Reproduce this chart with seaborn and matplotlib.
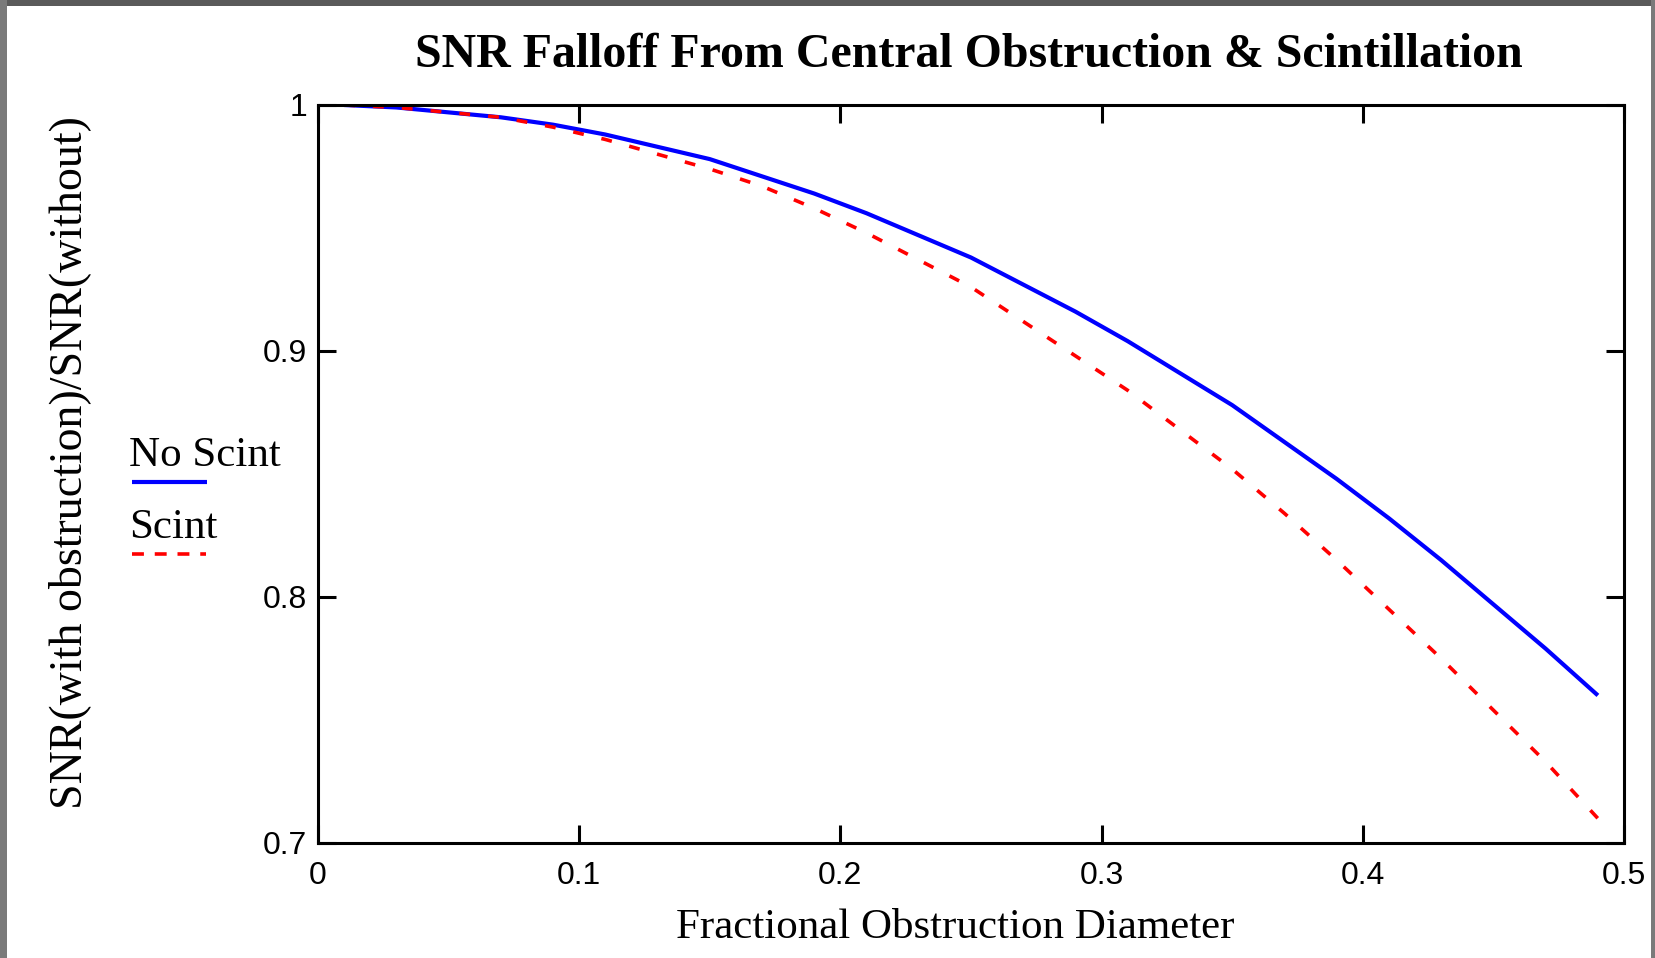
import matplotlib
matplotlib.use("Agg")
import matplotlib.pyplot as plt
from matplotlib.lines import Line2D
from matplotlib.patches import Rectangle
import numpy as np
import pandas as pd
import seaborn as sns

# Fractional obstruction diameter (x) and SNR ratios for the two cases
obstruction = [0.01, 0.03, 0.05, 0.07, 0.09, 0.11, 0.13, 0.15, 0.17, 0.19,
               0.21, 0.23, 0.25, 0.27, 0.29, 0.31, 0.33, 0.35, 0.37, 0.39,
               0.41, 0.43, 0.45, 0.47, 0.49]
snr_no_scint = [1.000, 0.999, 0.997, 0.995, 0.992, 0.988, 0.983, 0.978, 0.971, 0.964,
                0.956, 0.947, 0.938, 0.927, 0.916, 0.904, 0.891, 0.878, 0.863, 0.848,
                0.832, 0.815, 0.797, 0.779, 0.760]
snr_scint = [1.000, 0.999, 0.997, 0.995, 0.991, 0.986, 0.980, 0.974, 0.967, 0.958,
             0.948, 0.937, 0.926, 0.912, 0.898, 0.884, 0.868, 0.852, 0.834, 0.815,
             0.795, 0.775, 0.754, 0.733, 0.710]
x_ticks = [0, 0.1, 0.2, 0.3, 0.4, 0.5]
x_tick_labels = ["0", "0.1", "0.2", "0.3", "0.4", "0.5"]
y_ticks = [0.7, 0.8, 0.9, 1.0]
y_tick_labels = ["0.7", "0.8", "0.9", "1"]
series_names = ["No Scint", "Scint"]

sns.set_theme(style="white")
plt.rcParams["font.family"] = ["Liberation Serif", "DejaVu Serif"]

W, H, DPI = 1655, 958, 100
fig = plt.figure(figsize=(W / DPI, H / DPI), dpi=DPI, facecolor="white")
ax = fig.add_axes([318 / W, 1 - 843 / H, (1624 - 318) / W, (843 - 105) / H])
ax.set_facecolor("white")

df = pd.DataFrame({"x": obstruction, "no": snr_no_scint, "sc": snr_scint})
sns.lineplot(data=df, x="x", y="no", ax=ax, color="#0000ff", linewidth=3.0,
             solid_capstyle="butt")
sns.lineplot(data=df, x="x", y="sc", ax=ax, color="#ff0000", linewidth=2.6)
ax.lines[-1].set_dashes((3.0, 5.0))
ax.lines[-1].set_dash_capstyle("butt")

ax.set_xlim(0, 0.5)
ax.set_ylim(0.7, 1.0)
ax.set_xticks(x_ticks)
ax.set_xticklabels(x_tick_labels)
ax.set_yticks(y_ticks)
ax.set_yticklabels(y_tick_labels)
ax.set_xlabel("")
ax.set_ylabel("")
for s in ax.spines.values():
    s.set_visible(True)
    s.set_color("black")
    s.set_linewidth(2.2)
ax.tick_params(axis="both", which="major", direction="in", length=13, width=2.2,
               color="black", top=True, right=True, bottom=True, left=True,
               labelsize=23, labelcolor="black")
ax.tick_params(axis="x", pad=13)
ax.tick_params(axis="y", pad=8)
for lbl in ax.get_xticklabels() + ax.get_yticklabels():
    lbl.set_family(["Liberation Sans", "DejaVu Sans"])

fig.text(969 / W, 1 - 67 / H, "SNR Falloff From Central Obstruction & Scintillation",
         ha="center", va="baseline", fontsize=34.5, fontweight="bold", color="black")
fig.text(955 / W, 1 - 938 / H, "Fractional Obstruction Diameter",
         ha="center", va="baseline", fontsize=31, color="black")
fig.text(70 / W, 1 - 463 / H, "SNR(with obstruction)/SNR(without)",
         ha="center", va="center", rotation=90, fontsize=33, color="black")

# legend entries: name above a line sample
fig.text(129 / W, 1 - 466 / H, series_names[0], ha="left", va="baseline",
         fontsize=31, color="black")
fig.add_artist(Line2D([132 / W, 207 / W], [1 - 482 / H, 1 - 482 / H],
                      transform=fig.transFigure, color="#0000ff", linewidth=3.0,
                      solid_capstyle="butt"))
fig.text(129 / W, 1 - 538 / H, series_names[1], ha="left", va="baseline",
         fontsize=31, color="black")
fig.add_artist(Line2D([132 / W, 206 / W], [1 - 554 / H, 1 - 554 / H],
                      transform=fig.transFigure, color="#ff0000", linewidth=2.6,
                      dashes=(3.3, 3.0), dash_capstyle="butt"))

# window frame strips
fig.add_artist(Rectangle((0, 1 - 6 / H), 1, 6 / H, transform=fig.transFigure,
                         facecolor="#5a5a5a", edgecolor="none"))
fig.add_artist(Rectangle((0, 0), 7 / W, 1, transform=fig.transFigure,
                         facecolor="#7a7a7a", edgecolor="none"))
fig.add_artist(Rectangle((1 - 4 / W, 0), 4 / W, 1, transform=fig.transFigure,
                         facecolor="#7a7a7a", edgecolor="none"))

fig.savefig("out.png", dpi=DPI, facecolor="white")
